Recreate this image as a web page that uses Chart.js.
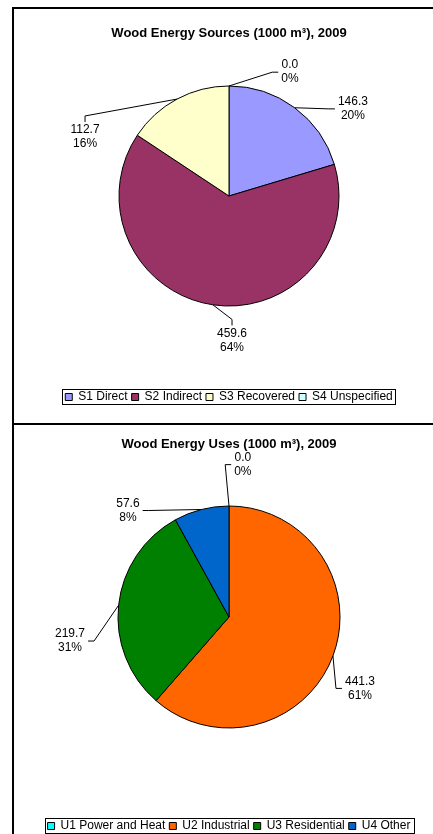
<!DOCTYPE html>
<html>
<head>
<meta charset="utf-8">
<script src="https://cdn.jsdelivr.net/npm/chart.js@4.4.1/dist/chart.umd.min.js"></script>
<style>
html, body { margin: 0; padding: 0; background: #fff; overflow: hidden; width: 433px; height: 834px; }
.box { position: absolute; left: 12px; width: 430px; border: 2px solid #000; background: #fff; }
#box1 { top: 7px; height: 414px; }
#box2 { top: 423px; height: 420px; }
canvas { display: block; }
</style>
</head>
<body>
<div class="box" id="box1"><canvas id="sources" width="430" height="414"></canvas></div>
<div class="box" id="box2"><canvas id="uses" width="430" height="420"></canvas></div>
<script>
var sourceLabels = ["S1 Direct", "S2 Indirect", "S3 Recovered", "S4 Unspecified"];
var sourceValues = [146.3, 459.6, 112.7, 0.0];
var sourceColors = ["#9999FF", "#993366", "#FFFFCC", "#CCFFFF"];

var useLabels = ["U1 Power and Heat", "U2 Industrial", "U3 Residential", "U4 Other"];
var useValues = [0.0, 441.3, 219.7, 57.6];
var useColors = ["#00FFFF", "#FF6600", "#008000", "#0066CC"];

// label placement: angle from 12 o'clock (deg), distance from centre (px), side the leader line meets
var sourceSpots = [[54.9, 151.5, "l"], [178.8, 144.5, "t"], [292.3, 155.6, "t"], [26.2, 138, "l"]];
var useSpots = [[5.2, 153, "l"], [118.6, 149.2, "l"], [261.4, 160.8, "r"], [316.5, 146.8, "r"]];

var FONT = "Arial, 'Liberation Sans', sans-serif";

// value + percent labels with leader lines, Excel style
var pieLabels = {
  id: "pieLabels",
  afterDatasetsDraw: function (chart, args, opts) {
    var ctx = chart.ctx;
    var meta = chart.getDatasetMeta(0);
    var values = chart.data.datasets[0].data;
    var total = values.reduce(function (a, b) { return a + b; }, 0);
    ctx.save();
    ctx.font = "12px " + FONT;
    ctx.fillStyle = "#000";
    ctx.strokeStyle = "#000";
    ctx.lineWidth = 1;
    ctx.textAlign = "center";
    ctx.textBaseline = "middle";
    meta.data.forEach(function (arc, i) {
      var p = arc.getProps(["x", "y", "startAngle", "endAngle", "outerRadius"], true);
      var mid = (p.startAngle + p.endAngle) / 2;
      var ex = p.x + p.outerRadius * Math.cos(mid);
      var ey = p.y + p.outerRadius * Math.sin(mid);
      var spot = opts.spots[i];
      var a = (spot[0] - 90) * Math.PI / 180;
      var cx = p.x + spot[1] * Math.cos(a);
      var cy = p.y + spot[1] * Math.sin(a);
      var line1 = values[i].toFixed(1);
      var line2 = Math.round(values[i] / total * 100) + "%";
      var hw = Math.max(ctx.measureText(line1).width, ctx.measureText(line2).width) / 2 + 3;
      var hh = 15;
      var ax = cx, ay = cy, bx = cx, by = cy;
      if (spot[2] == "l") { ax = cx - hw; bx = ax - 6; }
      if (spot[2] == "r") { ax = cx + hw; bx = ax + 6; }
      if (spot[2] == "t") { ay = cy - hh; by = ay - 6; }
      if (spot[2] == "b") { ay = cy + hh; by = ay + 6; }
      ctx.beginPath();
      ctx.moveTo(ex, ey);
      ctx.lineTo(bx, by);
      ctx.lineTo(ax, ay);
      ctx.stroke();
      ctx.fillText(line1, cx, cy - 7);
      ctx.fillText(line2, cx, cy + 7);
    });
    ctx.restore();
  }
};

// thin frame round the legend
var legendFrame = {
  id: "legendFrame",
  afterDraw: function (chart) {
    var boxes = chart.legend.legendHitBoxes;
    if (!boxes || !boxes.length) return;
    var left = Infinity, right = -Infinity, top = Infinity, bottom = -Infinity;
    boxes.forEach(function (b) {
      left = Math.min(left, b.left);
      right = Math.max(right, b.left + b.width);
      top = Math.min(top, b.top);
      bottom = Math.max(bottom, b.top + b.height);
    });
    var ctx = chart.ctx;
    ctx.save();
    ctx.strokeStyle = "#000";
    ctx.lineWidth = 1;
    ctx.strokeRect(Math.round(left - 3) + 0.5, Math.round(top - 2) + 0.5,
      Math.round(right - left + 6), Math.round(bottom - top + 3));
    ctx.restore();
  }
};

function pieChart(id, labels, values, colors, spots, radius, title, titlePad, legendGap, bottomPad) {
  return new Chart(id, {
    type: "pie",
    data: {
      labels: labels,
      datasets: [{
        data: values,
        backgroundColor: colors,
        borderColor: "#000",
        borderWidth: 1,
        radius: radius
      }]
    },
    options: {
      responsive: false,
      animation: false,
      events: [],
      layout: { padding: { bottom: bottomPad } },
      plugins: {
        title: {
          display: true,
          text: title,
          color: "#000",
          font: { family: FONT, size: 13, weight: "bold", lineHeight: 1.2 },
          padding: titlePad
        },
        legend: {
          position: "bottom",
          title: { display: true, text: " ", font: { size: 10, lineHeight: 1 }, padding: { top: legendGap, bottom: 0 } },
          labels: {
            color: "#000",
            font: { family: FONT, size: 12 },
            boxWidth: 7,
            boxHeight: 7,
            padding: 4
          }
        },
        tooltip: { enabled: false },
        pieLabels: { spots: spots }
      }
    },
    plugins: [pieLabels, legendFrame]
  });
}

pieChart("sources", sourceLabels, sourceValues, sourceColors, sourceSpots, 110,
  "Wood Energy Sources (1000 m\u00B3), 2009", { top: 17, bottom: 7.4 }, 34, 10);
pieChart("uses", useLabels, useValues, useColors, useSpots, 111,
  "Wood Energy Uses (1000 m\u00B3), 2009", { top: 12, bottom: 12.4 }, 37, 3);
</script>
</body>
</html>
